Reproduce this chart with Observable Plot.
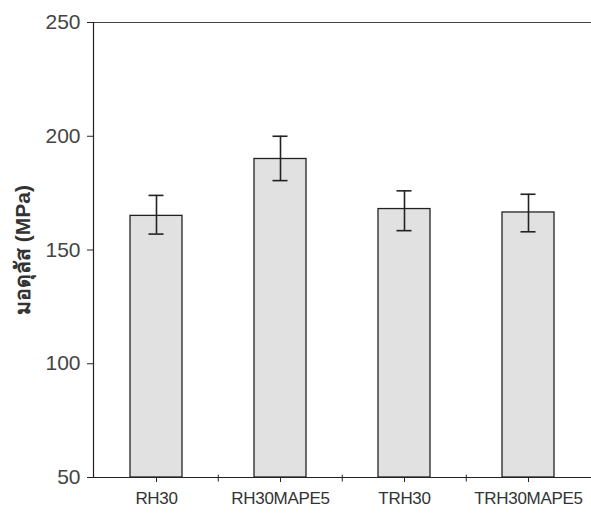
<!DOCTYPE html>
<html>
<head>
<meta charset="utf-8">
<script src="https://cdn.jsdelivr.net/npm/d3@7"></script>
<script src="https://cdn.jsdelivr.net/npm/@observablehq/plot@0.6"></script>
<style>
  html, body { margin: 0; padding: 0; background: #fff; }
  #chart svg { display: block; }
</style>
</head>
<body>
<div id="chart"></div>
<script>
// Modulus of each composite formulation (MPa) with its error range
const samples = ["RH30", "RH30MAPE5", "TRH30", "TRH30MAPE5"];
const modulus = [165, 190, 168, 166.5];
const errLow  = [157, 180.5, 158.5, 158];
const errHigh = [174, 200, 176, 174.5];
const yTicks  = [50, 100, 150, 200, 250];
const yTitle  = "มอดุลัส (MPa)";

const rows = samples.map((s, i) => ({
  sample: s, value: modulus[i], lo: errLow[i], hi: errHigh[i]
}));

const ink = "#222";

const chart = Plot.plot({
  width: 591,
  height: 516,
  marginTop: 22,
  marginBottom: 39,
  marginLeft: 93,
  marginRight: 0,
  style: { fontFamily: "Liberation Sans, Arial, sans-serif", background: "#fff" },
  x: { domain: samples, paddingInner: 0.58, paddingOuter: 0.29, label: null },
  y: { domain: [50, 250], ticks: yTicks, label: null },
  marks: [
    // bars
    Plot.barY(rows, {
      x: "sample", y1: 50, y2: "value",
      fill: "#e1e1e1", stroke: ink, strokeWidth: 1.3
    }),
    // error bars
    Plot.ruleX(rows, { x: "sample", y1: "lo", y2: "hi", stroke: ink, strokeWidth: 1.6 }),
    Plot.tickY(rows, { x: "sample", y: "hi", stroke: ink, strokeWidth: 1.6, insetLeft: 18.5, insetRight: 18.5 }),
    Plot.tickY(rows, { x: "sample", y: "lo", stroke: ink, strokeWidth: 1.6, insetLeft: 18.5, insetRight: 18.5 }),
    // frame lines: top, bottom, left
    Plot.ruleY([250], { stroke: "#444", strokeWidth: 1 }),
    Plot.ruleY([50], { stroke: ink, strokeWidth: 1.2 }),
    Plot.frame({ anchor: "left", stroke: ink, strokeWidth: 1.2 }),
    // minor ticks between categories
    Plot.ruleX(samples.slice(1), { x: d => d, y1: 51, y2: 48, dx: -62.25, stroke: ink, strokeWidth: 1 }),
    Plot.axisX({
      tickSize: 5, tickPadding: 9, fontSize: 17, fill: "#333",
      stroke: ink, label: null
    }),
    Plot.axisY({
      ticks: yTicks, tickSize: 6, tickPadding: 7, fontSize: 21, fill: "#444",
      stroke: ink, label: yTitle, labelArrow: "none", labelAnchor: "center", labelOffset: 78
    })
  ]
});

// styling for axis text
d3.select(chart).selectAll("g[aria-label='x-axis tick label'] text")
  .style("font-size", "17px").style("letter-spacing", "-0.3px");
d3.select(chart).selectAll("g[aria-label='y-axis tick label'] text")
  .style("font-size", "21px");
d3.select(chart).selectAll("g[aria-label='y-axis label'] text")
  .text(yTitle)
  .style("font-weight", "bold").style("font-size", "21px").style("fill", "#333");

document.getElementById("chart").appendChild(chart);
</script>
</body>
</html>
